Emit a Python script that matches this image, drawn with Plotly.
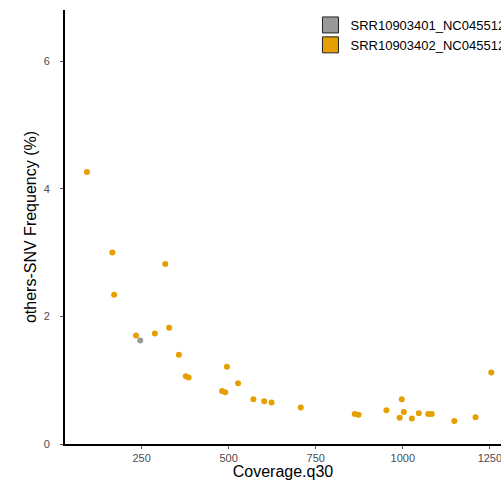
import plotly.graph_objects as go

# Series 1 (gray)
s1_name = "SRR10903401_NC045512.2"
s1_x = [246]
s1_y = [1.62]

# Series 2 (orange)
s2_name = "SRR10903402_NC045512.2"
s2_x = [93, 166, 171, 318, 234, 288, 329, 357, 377, 385, 481, 490, 495, 527,
        571, 602, 623, 707, 862, 873, 953, 991, 997, 1003, 1026, 1046, 1073,
        1083, 1148, 1209, 1254]
s2_y = [4.26, 3.00, 2.34, 2.82, 1.70, 1.73, 1.82, 1.40, 1.06, 1.04, 0.83, 0.81,
        1.21, 0.95, 0.70, 0.67, 0.65, 0.57, 0.47, 0.46, 0.53, 0.41, 0.70, 0.50,
        0.40, 0.48, 0.47, 0.47, 0.36, 0.42, 1.12]

x_ticks = [250, 500, 750, 1000, 1250]
y_ticks = [0, 2, 4, 6]

GRAY = "#999999"
ORANGE = "#E69F00"

fig = go.Figure()
fig.add_trace(go.Scatter(x=s1_x, y=s1_y, mode="markers", showlegend=False,
                         marker=dict(color=GRAY, size=6)))
fig.add_trace(go.Scatter(x=s2_x, y=s2_y, mode="markers", showlegend=False,
                         marker=dict(color=ORANGE, size=6)))
# legend keys
fig.add_trace(go.Scatter(x=[None], y=[None], mode="markers", name=s1_name,
                         marker=dict(color=GRAY, size=16, symbol="square",
                                     line=dict(color="#222222", width=1))))
fig.add_trace(go.Scatter(x=[None], y=[None], mode="markers", name=s2_name,
                         marker=dict(color=ORANGE, size=16, symbol="square",
                                     line=dict(color="#222222", width=1))))

fig.update_layout(
    width=501, height=480,
    margin=dict(l=65, r=0, t=10, b=36, autoexpand=False),
    plot_bgcolor="white", paper_bgcolor="white",
    font=dict(family="Liberation Sans, Arial, sans-serif", color="black"),
    showlegend=True,
    legend=dict(x=0.563, y=1.0, xanchor="left", yanchor="top",
                bgcolor="rgba(0,0,0,0)", font=dict(size=13, color="black"),
                tracegroupgap=0, itemwidth=30),
)
fig.update_xaxes(range=[30, 1282], tickvals=x_ticks,
                 ticktext=[str(v) for v in x_ticks],
                 showgrid=False, zeroline=False, showline=True,
                 linecolor="black", linewidth=2, ticks="outside", ticklen=3,
                 tickcolor="#555555", tickfont=dict(size=11, color="#4D4D4D"),
                 ticklabeloverflow="allow",
                 title=dict(text="Coverage.q30", font=dict(size=16), standoff=0),
                 automargin=False)
fig.update_yaxes(range=[0, 6.8], tickvals=y_ticks,
                 ticktext=[str(v) for v in y_ticks],
                 showgrid=False, zeroline=False, showline=True,
                 linecolor="black", linewidth=2, ticks="outside", ticklen=3,
                 tickcolor="#555555", tickfont=dict(size=11, color="#4D4D4D"),
                 ticklabelstandoff=8,
                 title=dict(text="others-SNV Frequency (%)", font=dict(size=16), standoff=3),
                 automargin=False)

fig.write_html("out.html", config={"displayModeBar": False},
               post_script="document.body.style.margin='0';document.body.style.overflow='hidden';")
